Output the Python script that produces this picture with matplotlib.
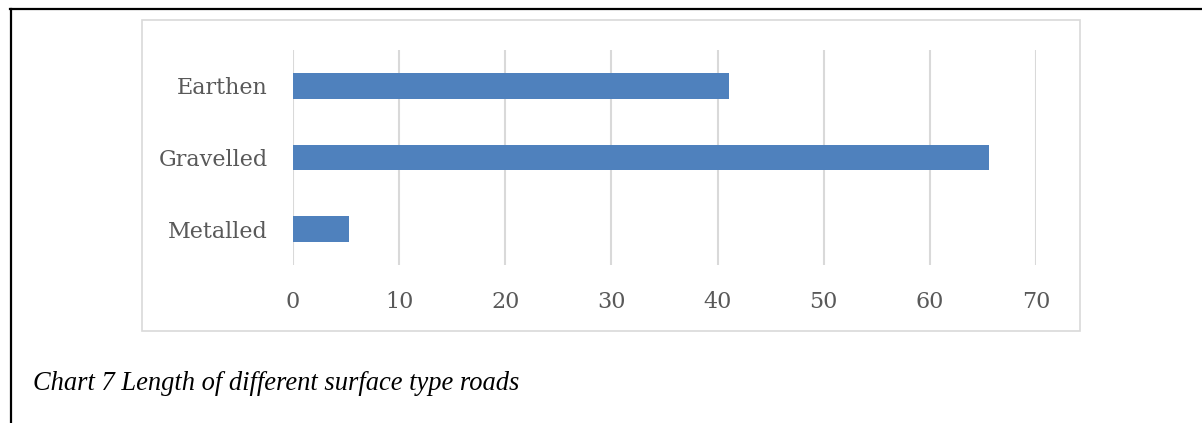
import matplotlib
matplotlib.use("Agg")
import matplotlib.pyplot as plt
from matplotlib.patches import Rectangle
from matplotlib.lines import Line2D

categories = ["Metalled", "Gravelled", "Earthen"]
lengths = [5.3, 65.6, 41.1]
x_ticks = [0, 10, 20, 30, 40, 50, 60, 70]
caption = "Chart 7 Length of different surface type roads"

W, H = 1202, 423
fig = plt.figure(figsize=(W / 100, H / 100), dpi=100)
fig.patch.set_facecolor("white")

def fx(px):
    return px / W

def fy(py):
    return 1 - py / H

# page frame lines (top and left)
fig.add_artist(Line2D([fx(10), fx(1202)], [fy(9), fy(9)], color="black", lw=1.6,
                      transform=fig.transFigure))
fig.add_artist(Line2D([fx(11), fx(11)], [fy(9), fy(423)], color="black", lw=1.6,
                      transform=fig.transFigure))

# chart area border
fig.add_artist(Rectangle((fx(142), fy(331)), fx(1080) - fx(142), fy(20) - fy(331),
                         transform=fig.transFigure, fill=False,
                         edgecolor="#d9d9d9", lw=1.2))

ax = fig.add_axes([fx(293), fy(265), fx(1036) - fx(293), fy(50) - fy(265)])
ax.set_facecolor("none")
ypos = list(range(len(categories)))
ax.barh(ypos, lengths, height=0.356, color="#4f81bd", zorder=3)
ax.set_xlim(0, 70)
ax.set_ylim(-0.5, len(categories) - 0.5)
ax.set_xticks(x_ticks)
ax.set_xticklabels([str(t) for t in x_ticks])
ax.set_yticks(ypos)
ax.set_yticklabels(categories)
for s in ax.spines.values():
    s.set_visible(False)
ax.grid(axis="x", color="#d9d9d9", lw=1.5, zorder=0)
ax.tick_params(axis="both", length=0, labelcolor="#595959", labelsize=16)
ax.tick_params(axis="x", pad=19)
ax.tick_params(axis="y", pad=18)
for lab in ax.get_xticklabels() + ax.get_yticklabels():
    lab.set_family("DejaVu Serif")

fig.text(fx(33), fy(383), caption, ha="left", va="center",
         family="Liberation Serif", style="italic", fontsize=19.1, color="black")

fig.savefig("out.png", dpi=100)
